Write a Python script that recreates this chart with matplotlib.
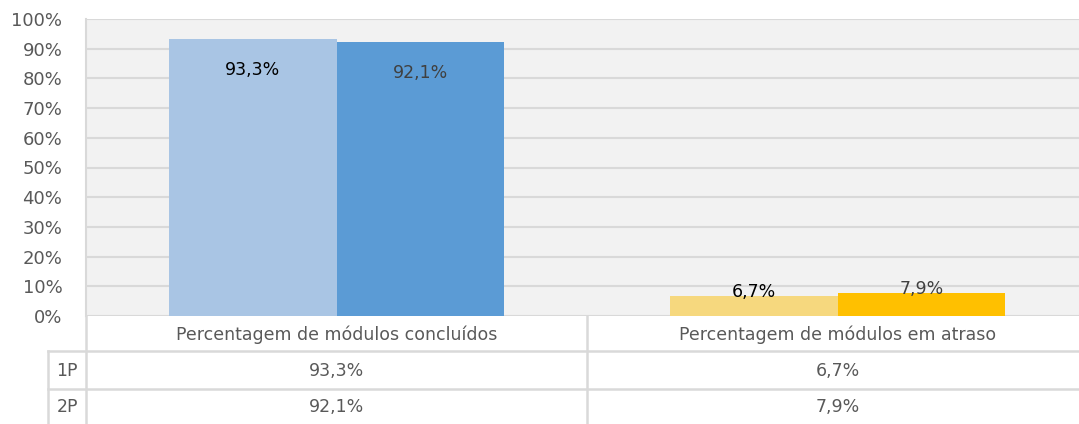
import matplotlib.pyplot as plt
import numpy as np

categories = ['Percentagem de módulos concluídos', 'Percentagem de módulos em atraso']
series_names = ['1P', '2P']
values_1p = [93.3, 6.7]
values_2p = [92.1, 7.9]
yticks = [0, 10, 20, 30, 40, 50, 60, 70, 80, 90, 100]

colors_1p = ['#A9C5E4', '#F6D87E']
colors_2p = ['#5B9BD5', '#FFC000']
label_colors = ['#000000', '#404040']

W, H = 1079, 424
fig = plt.figure(figsize=(W / 100, H / 100), dpi=100)
plt.rcParams['font.family'] = ['DejaVu Sans']

# plot area and table geometry in pixels (plot runs a bit past the right edge)
x0, x1 = 86, 1088
y_top, y_bot = 19, 316
ax = fig.add_axes([x0 / W, 1 - y_bot / H, (x1 - x0) / W, (y_bot - y_top) / H])
ax.set_facecolor('#F2F2F2')

x = np.arange(len(categories))
bw = 0.335
series = [values_1p, values_2p]
series_colors = [colors_1p, colors_2p]
for i, vals in enumerate(series):
    pos = x - bw / 2 + i * bw
    bars = ax.bar(pos, vals, bw, color=series_colors[i], zorder=3)
    for b, v in zip(bars, vals):
        txt = f'{v:.1f}%'.replace('.', ',')
        off = -31 if v > 50 else 4
        ax.annotate(txt, (b.get_x() + b.get_width() / 2, v), xytext=(0, off),
                    textcoords='offset pixels', ha='center', va='center',
                    fontsize=12.5, color=label_colors[i], zorder=4)

ax.set_xlim(-0.5, len(categories) - 0.5)
ax.set_ylim(0, 100)
ax.set_yticks(yticks)
ax.set_yticklabels([f'{t}%' for t in yticks], fontsize=13, color='#595959')
ax.tick_params(axis='y', length=0, pad=17)
ax.set_xticks([])
ax.grid(axis='y', color='#D9D9D9', linewidth=1.5, zorder=1)
for s in ['top', 'right', 'bottom']:
    ax.spines[s].set_visible(False)
ax.spines['left'].set_color('#D9D9D9')
ax.spines['left'].set_linewidth(1.5)

# data table under the plot
line_c = '#D9D9D9'
lw = 1.8
def fx(px):
    return px / W
def fy(py):
    return 1 - py / H

row_y = [316, 351, 389, 424]
col_x = [x0 + (x1 - x0) * k / len(categories) for k in range(len(categories) + 1)]
left_col = 48

fig.add_artist(plt.Line2D([fx(x0), fx(x0)], [fy(316), fy(424)], color=line_c, lw=lw))
fig.add_artist(plt.Line2D([fx(left_col), fx(left_col)], [fy(351), fy(424)], color=line_c, lw=lw))
for cx in col_x[1:-1]:
    fig.add_artist(plt.Line2D([fx(cx), fx(cx)], [fy(316), fy(424)], color=line_c, lw=lw))
for ry in row_y[1:3]:
    fig.add_artist(plt.Line2D([fx(left_col), fx(W)], [fy(ry), fy(ry)], color=line_c, lw=lw))

for k, cat in enumerate(categories):
    cx = (col_x[k] + col_x[k + 1]) / 2
    fig.text(fx(cx), fy((row_y[0] + row_y[1]) / 2 + 1), cat, ha='center', va='center',
             fontsize=12.5, color='#595959')
    for r, vals in enumerate(series):
        txt = f'{vals[k]:.1f}%'.replace('.', ',')
        fig.text(fx(cx), fy((row_y[r + 1] + row_y[r + 2]) / 2 + 1), txt, ha='center',
                 va='center', fontsize=12.5, color='#595959')

for r, name in enumerate(series_names):
    fig.text(fx((left_col + x0) / 2), fy((row_y[r + 1] + row_y[r + 2]) / 2 + 1), name,
             ha='center', va='center', fontsize=12.5, color='#595959')

fig.savefig('out.png', dpi=100)
